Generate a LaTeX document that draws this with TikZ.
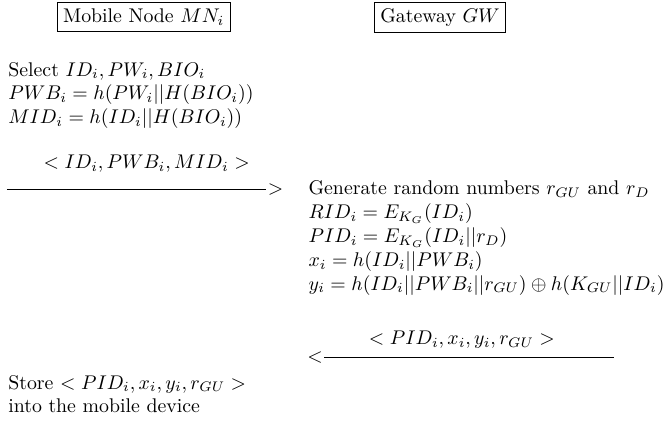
\documentclass[tikz,border=0pt]{standalone}
\usepackage{amsmath}
\usepackage{amssymb}
\usetikzlibrary{positioning}

\begin{document}
\begin{tikzpicture}[x=1pt, y=-1pt,
	party/.style={draw, inner sep=3pt, line width=0.4pt},
	steps/.style={align=left, anchor=north west, inner sep=0pt},
	msg/.style={anchor=base, inner sep=0pt},
	tip/.style={anchor=base, inner sep=0.6pt}]
	\useasboundingbox (0,0) rectangle (336,212);
	% 参与方
	\node[party] (mn) at (72.5,8.6) {Mobile Node $MN_i$};
	\node[party] (gw) at (222,8.6) {Gateway $GW$};
	% 移动节点注册
	\node[steps] (mnreg) at (4,31.1) {Select $ID_i, PW_i, BIO_i$\\
		$PWB_i = h(PW_i||H(BIO_i))$\\
		$MID_i = h(ID_i||H(BIO_i))$};
	% 第一条消息
	\node[msg] (msga) at (74,85) {$<ID_i, PWB_i, MID_i>$};
	\node[tip] (gta) at (139,98) {$>$};
	\coordinate (msgastart) at (3.5,95.5);
	\draw (msgastart) -- (gta.west);
	% 网关计算
	\node[steps] (gwreg) at (155.5,91.06) {Generate random numbers $r_{GU}$ and $r_D$\\
		$RID_i = E_{K_G}(ID_i)$\\
		$PID_i = E_{K_G}(ID_i||r_D)$\\
		$x_i = h(ID_i||PWB_i)$\\
		$y_i = h(ID_i||PWB_i||r_{GU}) \oplus h(K_{GU}||ID_i)$};
	% 第二条消息
	\node[msg] (msgb) at (233,174) {$<PID_i, x_i, y_i, r_{GU}>$};
	\node[tip] (ltb) at (159,183) {$<$};
	\coordinate (msgbend) at (309.6,180.5);
	\draw (msgbend) -- (ltb.east);
	% 存储
	\node[steps] (store) at (4,189) {Store $<PID_i, x_i, y_i, r_{GU}>$\\
		into the mobile device};
\end{tikzpicture}
\end{document}
